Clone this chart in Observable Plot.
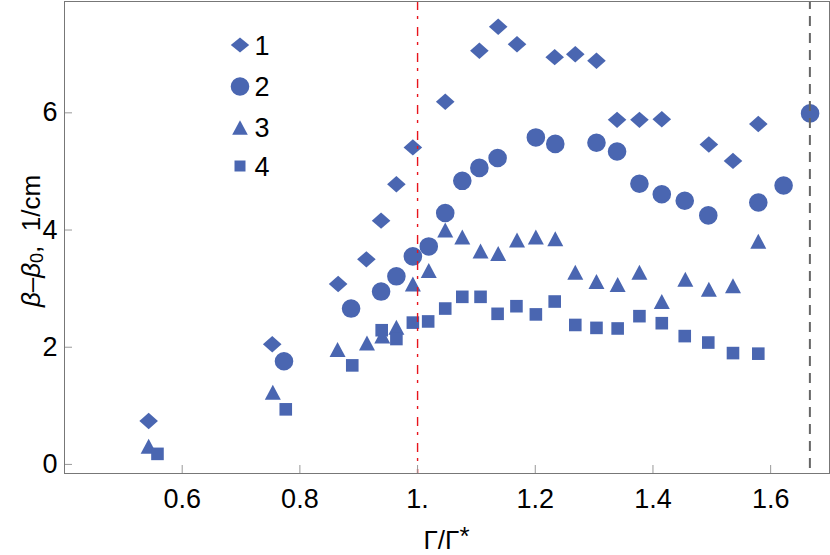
<!DOCTYPE html>
<html>
<head>
<meta charset="utf-8">
<script src="https://cdn.jsdelivr.net/npm/d3@7"></script>
<script src="https://cdn.jsdelivr.net/npm/@observablehq/plot@0.6"></script>
<style>
  html, body { margin: 0; padding: 0; background: #fff; }
  #chart { width: 830px; height: 555px; }
</style>
</head>
<body>
<div id="chart"></div>
<script>
// ---- Data ----
const seriesNames = ["1", "2", "3", "4"];

const s1x = [0.543, 0.753, 0.865, 0.913, 0.938, 0.964, 0.992, 1.047, 1.105, 1.137, 1.169, 1.233, 1.268, 1.304, 1.339, 1.377, 1.415, 1.495, 1.536, 1.579];
const s1y = [0.74, 2.05, 3.08, 3.50, 4.16, 4.78, 5.41, 6.19, 7.06, 7.47, 7.17, 6.95, 7.00, 6.89, 5.88, 5.88, 5.89, 5.46, 5.18, 5.81];

const s2x = [0.773, 0.887, 0.938, 0.964, 0.992, 1.019, 1.047, 1.076, 1.105, 1.136, 1.201, 1.234, 1.304, 1.339, 1.377, 1.415, 1.454, 1.494, 1.579, 1.622, 1.667];
const s2y = [1.76, 2.66, 2.95, 3.21, 3.55, 3.72, 4.29, 4.84, 5.06, 5.23, 5.58, 5.47, 5.49, 5.34, 4.79, 4.61, 4.50, 4.25, 4.47, 4.76, 5.99];

const s3x = [0.543, 0.754, 0.864, 0.914, 0.940, 0.964, 0.992, 1.019, 1.047, 1.076, 1.107, 1.137, 1.169, 1.201, 1.234, 1.268, 1.304, 1.340, 1.377, 1.415, 1.455, 1.495, 1.536, 1.579];
const s3y = [0.31, 1.23, 1.96, 2.07, 2.19, 2.34, 3.08, 3.31, 4.00, 3.88, 3.64, 3.60, 3.83, 3.88, 3.85, 3.28, 3.12, 3.07, 3.28, 2.78, 3.16, 2.99, 3.05, 3.81];

const s4x = [0.558, 0.776, 0.889, 0.939, 0.964, 0.992, 1.018, 1.047, 1.076, 1.107, 1.136, 1.168, 1.201, 1.233, 1.268, 1.304, 1.340, 1.377, 1.415, 1.454, 1.494, 1.536, 1.579];
const s4y = [0.18, 0.94, 1.69, 2.29, 2.14, 2.42, 2.44, 2.66, 2.86, 2.86, 2.57, 2.70, 2.56, 2.78, 2.38, 2.33, 2.32, 2.53, 2.41, 2.19, 2.08, 1.90, 1.89];

const xTicks = [0.6, 0.8, 1.0, 1.2, 1.4, 1.6];
const xTickLabels = ["0.6", "0.8", "1.", "1.2", "1.4", "1.6"];
const yTicks = [0, 2, 4, 6];
const yTickLabels = ["0", "2", "4", "6"];
const refCritical = [1.0];
const refLimit = [5 / 3];
const xDomain = [0.4, 1.7];
const yDomain = [-0.155, 7.9];

// ---- Styling ----
const COLOR = "#4a66b1";
const W = 830, H = 555;
const mL = 64, mR = 1, mT = 1, mB = 82;
const plotW = W - mL - mR, plotH = H - mT - mB;
const FONT = "'Liberation Sans', Arial, sans-serif";

// custom marker shapes
const diamondSym = (hw, hh) => ({draw(c) { c.moveTo(0, -hh); c.lineTo(hw, 0); c.lineTo(0, hh); c.lineTo(-hw, 0); c.closePath(); }});
const circleSym = (r) => ({draw(c) { c.moveTo(r, 0); c.arc(0, 0, r, 0, 2 * Math.PI); c.closePath(); }});
const triangleSym = (hw, hh) => ({draw(c) { c.moveTo(0, -hh); c.lineTo(hw, hh); c.lineTo(-hw, hh); c.closePath(); }});
const squareSym = (h) => ({draw(c) { c.rect(-h, -h, 2 * h, 2 * h); }});

const symbols = [diamondSym(9.3, 8.2), circleSym(9.3), triangleSym(8, 7.5), squareSym(6.3)];
const legendSymbols = [diamondSym(9.2, 7.5), circleSym(9.3), triangleSym(7.8, 7.3), squareSym(5.5)];

const toRows = (xs, ys) => xs.map((x, i) => ({x, y: ys[i]}));
const series = [toRows(s1x, s1y), toRows(s2x, s2y), toRows(s3x, s3y), toRows(s4x, s4y)];

const chart = Plot.plot({
  width: W,
  height: H,
  marginLeft: mL,
  marginRight: mR,
  marginTop: mT,
  marginBottom: mB,
  style: {fontFamily: FONT, fontSize: "27px", color: "#000", background: "#fff", overflow: "visible"},
  x: {domain: xDomain, axis: null},
  y: {domain: yDomain, axis: null},
  marks: [
    ...series.map((rows, i) => Plot.dot(rows, {x: "x", y: "y", symbol: symbols[i], r: 9, fill: COLOR, stroke: null})),
    Plot.ruleX(refCritical, {x: d => d, stroke: "#e8141c", strokeWidth: 1.4, strokeDasharray: "9,6,3,8"}),
    Plot.ruleX(refLimit, {x: d => d, stroke: "#666", strokeWidth: 2, strokeDasharray: "10,7", strokeDashoffset: 2}),
    Plot.tickX(xTicks, {x: d => d, stroke: "#999", strokeWidth: 1, insetTop: plotH - 8}),
    Plot.tickY(yTicks, {y: d => d, stroke: "#999", strokeWidth: 1, insetRight: plotW - 8}),
    Plot.axisX(xTicks, {tickSize: 0, tickPadding: 15, label: null, tickFormat: d => xTickLabels[xTicks.indexOf(d)], fill: "#000"}),
    Plot.axisY(yTicks, {tickSize: 0, tickPadding: 7, label: null, tickFormat: d => yTickLabels[yTicks.indexOf(d)], fill: "#000"}),
    Plot.frame({stroke: "#777", strokeWidth: 1})
  ]
});

document.getElementById("chart").appendChild(chart);

// ---- Axis titles and legend (added to the SVG as real text) ----
const svg = d3.select(chart);

// y-axis title: β–β0, 1/cm
const yt = svg.append("text")
  .attr("transform", "translate(31,241) rotate(-90)")
  .attr("text-anchor", "middle")
  .attr("dominant-baseline", "central")
  .attr("font-family", FONT)
  .attr("font-size", 26)
  .attr("fill", "#000");
yt.append("tspan").attr("font-style", "italic").text("β");
yt.append("tspan").text("–");
yt.append("tspan").attr("font-style", "italic").text("β");
yt.append("tspan").attr("font-size", 18).attr("dy", 6).text("0");
yt.append("tspan").attr("dy", -6).text(",\u00a0\u00a01/cm");

// x-axis title: Γ/Γ*
const xt = svg.append("text")
  .attr("x", mL + plotW / 2)
  .attr("y", 549)
  .attr("text-anchor", "middle")
  .attr("font-family", FONT)
  .attr("font-size", 26)
  .attr("fill", "#000");
xt.append("tspan").text("Γ/Γ");
xt.append("tspan").attr("dy", -4).text("*");

// legend
const legendY = [45, 86.5, 127.5, 166];
const lg = svg.append("g");
seriesNames.forEach((name, i) => {
  const p = d3.path();
  legendSymbols[i].draw(p);
  lg.append("path")
    .attr("d", p.toString())
    .attr("transform", `translate(240,${legendY[i]})`)
    .attr("fill", COLOR);
  lg.append("text")
    .attr("x", 262)
    .attr("y", legendY[i] + 9.6)
    .attr("font-family", FONT)
    .attr("font-size", 27)
    .attr("fill", "#000")
    .text(name);
});
</script>
</body>
</html>
